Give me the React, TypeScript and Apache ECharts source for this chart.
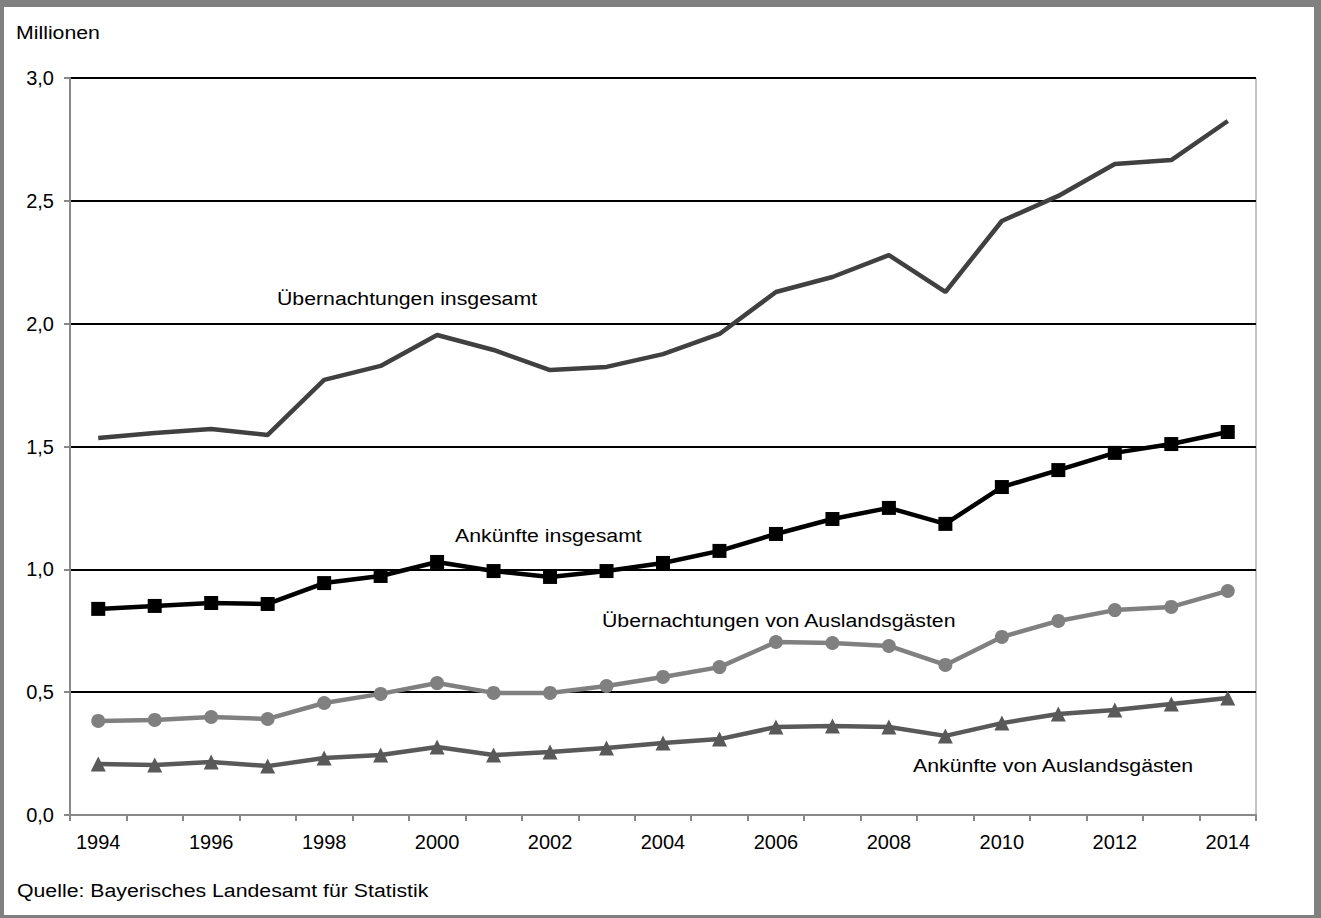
import React, { useEffect, useRef } from "react";
import * as echarts from "echarts";

const years = ["1994","1995","1996","1997","1998","1999","2000","2001","2002","2003","2004","2005","2006","2007","2008","2009","2010","2011","2012","2013","2014"];
const uebernachtungenInsgesamt = [1.535,1.555,1.571,1.547,1.771,1.828,1.954,1.893,1.811,1.824,1.876,1.958,2.129,2.19,2.279,2.129,2.418,2.52,2.65,2.666,2.825];
const ankuenfteInsgesamt = [0.839,0.851,0.863,0.859,0.944,0.973,1.03,0.993,0.969,0.993,1.026,1.075,1.144,1.205,1.25,1.185,1.335,1.404,1.474,1.51,1.559];
const uebernachtungenAusland = [0.383,0.387,0.399,0.391,0.456,0.493,0.537,0.497,0.497,0.525,0.562,0.602,0.704,0.7,0.688,0.611,0.725,0.79,0.834,0.847,0.912];
const ankuenfteAusland = [0.208,0.204,0.216,0.199,0.232,0.244,0.277,0.244,0.256,0.273,0.293,0.309,0.358,0.362,0.358,0.322,0.374,0.411,0.427,0.452,0.476];

const FONT = "'Liberation Sans', Arial, sans-serif";

export default function App() {
  const ref = useRef<HTMLDivElement>(null);
  useEffect(() => {
    const chart = echarts.init(ref.current!, null, { renderer: "svg" });
    const txt = (text: string, x: number, y: number) => ({
      type: "text", x, y, scaleX: 1.12, scaleY: 1,
      style: { text, fill: "#000", font: `19px ${FONT}`, textVerticalAlign: "middle", verticalAlign: "middle" },
    });
    chart.setOption({
      animation: false,
      backgroundColor: "#fff",
      textStyle: { fontFamily: FONT },
      grid: { left: 70, right: 65, top: 78, bottom: 103, show: true, borderColor: "#888", borderWidth: 1, backgroundColor: "transparent" },
      xAxis: {
        type: "category", data: years, boundaryGap: true,
        axisLine: { lineStyle: { color: "#888", width: 2 } },
        axisTick: { show: true, interval: 0, length: 6, lineStyle: { color: "#888", width: 2 } },
        axisLabel: { interval: 1, color: "#000", fontSize: 20, margin: 17, fontFamily: FONT },
        splitLine: { show: false },
      },
      yAxis: {
        type: "value", min: 0, max: 3, interval: 0.5,
        axisLine: { show: true, lineStyle: { color: "#888", width: 2 } },
        axisTick: { show: true, length: 6, lineStyle: { color: "#888", width: 2 } },
        axisLabel: { color: "#000", fontSize: 20, margin: 16, fontFamily: FONT, formatter: (v: number) => v.toFixed(1).replace(".", ",") },
        splitLine: { show: true, lineStyle: { color: "#000", width: 2 } },
      },
      series: [
        { type: "line", data: uebernachtungenInsgesamt, showSymbol: false, symbol: "none", lineStyle: { color: "#404040", width: 4.5 }, itemStyle: { color: "#404040" }, z: 3 },
        { type: "line", data: ankuenfteInsgesamt, symbol: "rect", symbolSize: 14, lineStyle: { color: "#000", width: 4.5 }, itemStyle: { color: "#000" }, z: 4 },
        { type: "line", data: uebernachtungenAusland, symbol: "circle", symbolSize: 14, lineStyle: { color: "#808080", width: 4.5 }, itemStyle: { color: "#808080" }, z: 3 },
        { type: "line", data: ankuenfteAusland, symbol: "triangle", symbolSize: 15, lineStyle: { color: "#595959", width: 4.5 }, itemStyle: { color: "#595959" }, z: 3 },
      ],
      graphic: [
        { type: "rect", left: 0, top: 0, shape: { width: 1321, height: 7 }, style: { fill: "#808080" } },
        { type: "rect", left: 0, top: 0, shape: { width: 4, height: 918 }, style: { fill: "#808080" } },
        { type: "rect", left: 1314, top: 0, shape: { width: 7, height: 918 }, style: { fill: "#808080" } },
        { type: "rect", left: 0, top: 915, shape: { width: 1321, height: 3 }, style: { fill: "#808080" } },
        txt("Millionen", 16, 32),
        txt("Übernachtungen insgesamt", 277, 298),
        txt("Ankünfte insgesamt", 455, 535.5),
        txt("Übernachtungen von Auslandsgästen", 602, 620.5),
        txt("Ankünfte von Auslandsgästen", 913, 765.5),
        txt("Quelle: Bayerisches Landesamt für Statistik", 17, 890),
      ],
    });
    return () => chart.dispose();
  }, []);
  return <div ref={ref} style={{ position: "fixed", left: 0, top: 0, width: 1321, height: 918 }} />;
}
